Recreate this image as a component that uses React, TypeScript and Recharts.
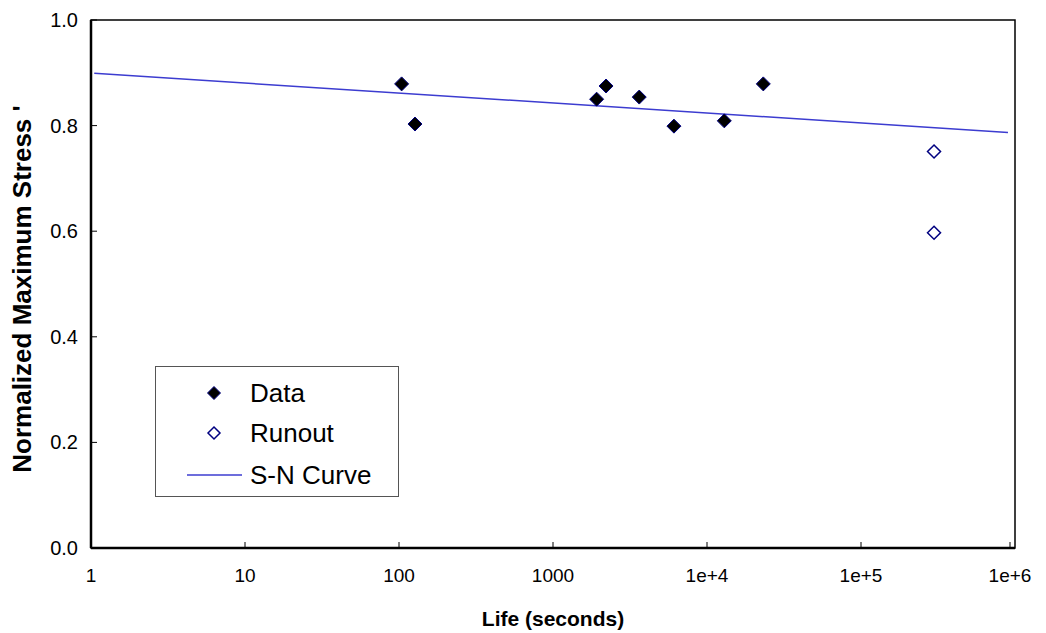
import React from "react";
import { ScatterChart, Scatter, XAxis, YAxis, ReferenceArea, Legend } from "recharts";

// test results (life in seconds, normalized max stress)
const dataLife = [104, 127, 1920, 2210, 3630, 6100, 12950, 23200];
const dataStress = [0.879, 0.803, 0.85, 0.875, 0.854, 0.799, 0.809, 0.879];
const runoutLife = [298000, 298000];
const runoutStress = [0.751, 0.597];
const curveLife = [1.05, 900000];
const curveStress = [0.899, 0.787];

const xTicks = [1, 10, 100, 1000, 1e4, 1e5, 1e6];
const xTickLabels = ["1", "10", "100", "1000", "1e+4", "1e+5", "1e+6"];
const yTicks = [0, 0.2, 0.4, 0.6, 0.8, 1.0];
const yTickLabels = ["0.0", "0.2", "0.4", "0.6", "0.8", "1.0"];

const NAVY = "#000080";
const LINE = "#3c3cd0";
const FONT = "Arial, 'Liberation Sans', sans-serif";

const toPoints = (xs: number[], ys: number[]) => xs.map((x, i) => ({ life: x, stress: ys[i] }));
const testData = toPoints(dataLife, dataStress);
const runoutData = toPoints(runoutLife, runoutStress);
const curveData = toPoints(curveLife, curveStress);

const diamond = (cx: number, cy: number, r: number) =>
  `${cx},${cy - r} ${cx + r},${cy} ${cx},${cy + r} ${cx - r},${cy}`;

const FilledDiamond = (props: any) => (
  <polygon points={diamond(props.cx, props.cy, 7)} fill="#000" stroke={NAVY} strokeWidth={1} />
);
const OpenDiamond = (props: any) => (
  <polygon points={diamond(props.cx, props.cy, 6.5)} fill="#fff" stroke={NAVY} strokeWidth={1.5} />
);

const XTick = (props: any) => {
  const { x, y, payload } = props;
  const i = xTicks.indexOf(payload.value);
  return (
    <g>
      <line x1={x} y1={y} x2={x} y2={y - 6} stroke="#000" strokeWidth={1} />
      <text x={x} y={y + 34} textAnchor="middle" fontSize={19} fontFamily={FONT} fill="#000">
        {xTickLabels[i]}
      </text>
    </g>
  );
};

const YTick = (props: any) => {
  const { x, y, payload } = props;
  const i = yTicks.indexOf(payload.value);
  return (
    <g>
      <line x1={x} y1={y} x2={x + 6} y2={y} stroke="#000" strokeWidth={1} />
      <text x={x - 13} y={y} dy="0.35em" textAnchor="end" fontSize={20} fontFamily={FONT} fill="#000">
        {yTickLabels[i]}
      </text>
    </g>
  );
};

const YTitle = (props: any) => {
  const vb = props.viewBox || { y: 12, height: 528 };
  const cy = vb.y + vb.height / 2 + 5;
  return (
    <text
      transform={`translate(14, ${cy}) rotate(-90)`}
      textAnchor="middle"
      dominantBaseline="central"
      fontSize={26}
      fontWeight="bold"
      fontFamily={FONT}
      fill="#000"
    >
      Normalized Maximum Stress '
    </text>
  );
};

const LegendBox = () => (
  <div style={{ width: 242, height: 129, border: "1px solid #555", background: "#fff" }}>
    <svg width={242} height={129}>
      <polygon points={diamond(58, 26, 6.5)} fill="#000" stroke={NAVY} strokeWidth={1} />
      <text x={94} y={26} dy="0.35em" fontSize={26} fontFamily={FONT} fill="#000">Data</text>
      <polygon points={diamond(58, 66, 6)} fill="#fff" stroke={NAVY} strokeWidth={1.5} />
      <text x={94} y={66} dy="0.35em" fontSize={26} fontFamily={FONT} fill="#000">Runout</text>
      <line x1={31} y1={108} x2={86} y2={108} stroke={LINE} strokeWidth={1.5} />
      <text x={94} y={108} dy="0.35em" fontSize={26} fontFamily={FONT} fill="#000">S-N Curve</text>
    </svg>
  </div>
);

export default function App() {
  return (
    <div style={{ width: 1030, height: 625 }}>
      <ScatterChart width={1030} height={625} margin={{ top: 12, right: 23, bottom: 0, left: 0 }}>
        <XAxis
          dataKey="life"
          type="number"
          scale="log"
          domain={[1, 1e6]}
          ticks={xTicks}
          allowDataOverflow
          height={85}
          tickSize={0}
          tickMargin={0}
          tickLine={false}
          tick={<XTick />}
          axisLine={{ stroke: "#000", strokeWidth: 2.5 }}
          label={{
            value: "Life (seconds)",
            position: "insideBottom",
            offset: 7,
            style: { fontSize: 21, fontWeight: "bold", fontFamily: FONT, fill: "#000" },
          }}
        />
        <YAxis
          dataKey="stress"
          type="number"
          domain={[0, 1]}
          ticks={yTicks}
          allowDataOverflow
          width={83}
          tickSize={0}
          tickMargin={0}
          tickLine={false}
          tick={<YTick />}
          axisLine={{ stroke: "#000", strokeWidth: 2.5 }}
          label={<YTitle />}
        />
        <ReferenceArea x1={1} x2={1e6} y1={0} y2={1} fill="none" stroke="#000" strokeWidth={1.5} ifOverflow="visible" />
        <Scatter
          name="S-N Curve"
          data={curveData}
          line={{ stroke: LINE, strokeWidth: 1.5 }}
          lineType="joint"
          shape={() => <g />}
          isAnimationActive={false}
        />
        <Scatter name="Data" data={testData} shape={<FilledDiamond />} isAnimationActive={false} />
        <Scatter name="Runout" data={runoutData} shape={<OpenDiamond />} isAnimationActive={false} />
        <Legend
          layout="vertical"
          align="center"
          verticalAlign="middle"
          content={<LegendBox />}
          wrapperStyle={{ position: "absolute", left: 147, top: 358, width: 244, height: 131 }}
        />
      </ScatterChart>
    </div>
  );
}
